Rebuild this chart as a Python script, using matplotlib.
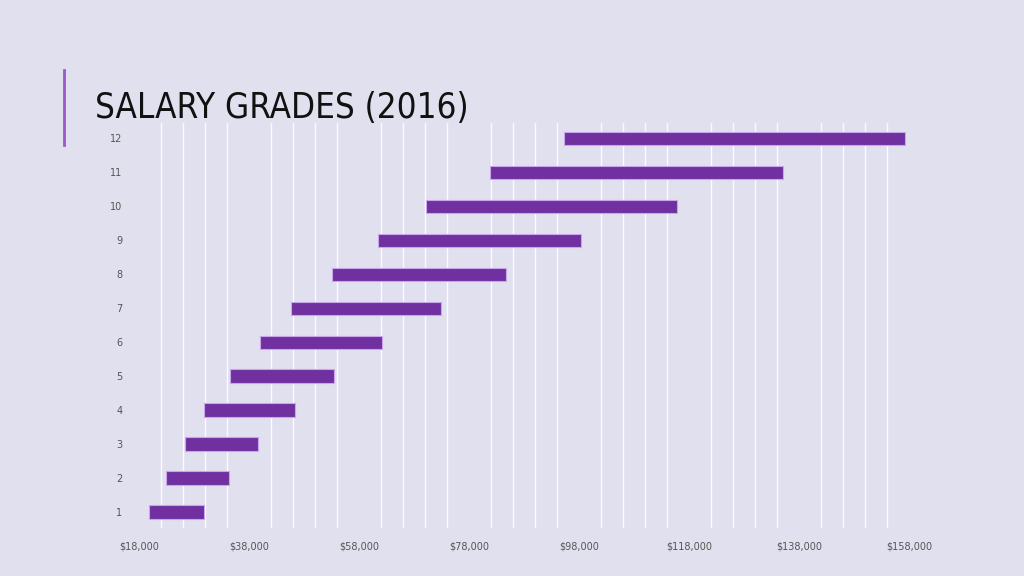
import numpy as np
import matplotlib.pyplot as plt
from matplotlib.lines import Line2D

# salary range per grade
grades = [1, 2, 3, 4, 5, 6, 7, 8, 9, 10, 11, 12]
range_min = [19900, 22900, 26400, 29900, 34500, 40000, 45600, 53000, 61400, 70200, 81800, 95300]
range_max = [29900, 34400, 39600, 46300, 53500, 62100, 72900, 84700, 98300, 115900, 135000, 157300]
x_ticks = [18000, 38000, 58000, 78000, 98000, 118000, 138000, 158000]

bg = '#e1e0ef'
bar_color = '#7030a0'

fig = plt.figure(figsize=(10.24, 5.76), dpi=100, facecolor=bg)
ax = fig.add_axes([139/1024, 1 - 528/576, (909 - 139)/1024, (528 - 123)/576])
ax.set_facecolor(bg)

widths = np.array(range_max) - np.array(range_min)
ax.barh(grades, widths, left=range_min, height=0.39, color=bar_color,
        edgecolor='#c9a6ec', linewidth=0.8, zorder=3)

# white minor gridlines every 4000, none at the labelled ticks
minor = [v for v in range(22000, 158000, 4000) if (v - 18000) % 20000 != 0]
for v in minor:
    ax.axvline(v, color='white', linewidth=1.0, alpha=0.9, zorder=1)

ax.set_xlim(18000, 158000)
ax.set_ylim(0.53, 12.45)
ax.set_xticks(x_ticks)
ax.set_xticklabels(['${:,}'.format(v) for v in x_ticks], fontsize=7, color='#555555')
ax.set_yticks(grades)
ax.set_yticklabels([str(g) for g in grades], fontsize=7, color='#555555')
ax.tick_params(length=0, pad=10)
ax.tick_params(axis='y', pad=12)
for s in ax.spines.values():
    s.set_visible(False)

# title and accent bar
title = fig.text(95/1024, 1 - 108/576, 'SALARY GRADES (2016)', fontsize=31,
                 family=['Noto Sans ExtraCondensed', 'Noto Sans Condensed', 'DejaVu Sans'],
                 fontstretch='condensed', color='#111111', va='center', ha='left')
# shrink the title so it spans the same width as on the slide
renderer = fig.canvas.get_renderer()
w = title.get_window_extent(renderer).width
title.set_fontsize(31 * 373 / w)

fig.add_artist(Line2D([64/1024, 64/1024], [1 - 70/576, 1 - 145/576],
                      transform=fig.transFigure, color='#9b59c8', linewidth=2))

plt.savefig('out.png', dpi=100, facecolor=bg)
